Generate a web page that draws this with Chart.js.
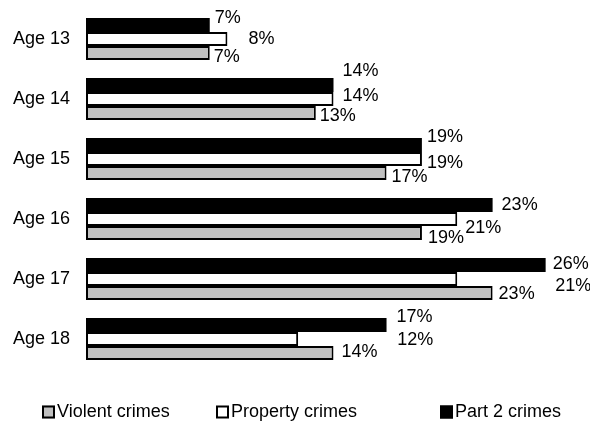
<!DOCTYPE html>
<html>
<head>
<meta charset="utf-8">
<script src="https://cdn.jsdelivr.net/npm/chart.js@4/dist/chart.umd.min.js"></script>
<style>
  html, body { margin: 0; padding: 0; background: #fff; }
  #wrap { width: 590px; height: 423px; }
</style>
</head>
<body>
<div id="wrap"><canvas id="chart" width="590" height="423"></canvas></div>
<script>
var ages = ['Age 13', 'Age 14', 'Age 15', 'Age 16', 'Age 17', 'Age 18'];

// percent of youth arrested, by offence group
var part2Crimes = [7, 14, 19, 23, 26, 17];
var propertyCrimes = [8, 14, 19, 21, 21, 12];
var violentCrimes = [7, 13, 17, 19, 23, 14];

var FONT = '"Liberation Sans", Arial, sans-serif';

// nudge each value label off its bar end so neighbours don't collide
// [dx, dy] per dataset (part 2, property, violent), per age
var labelShift = [
  [[5, -7], [9, -14], [5, -8], [9, 0], [7, -1], [10, -8]],
  [[21, 0], [9, -3], [5, 4], [8, 9], [98, 7], [99, 1]],
  [[4, 4], [4, 3], [5, 4], [6, 5], [6, 1], [8, -1]]
];

// legend columns, left edge of the swatch
var legendX = [42, 216, 440];
var legendY = 412;

var valueLabels = {
  id: 'valueLabels',
  afterDatasetsDraw: function (chart) {
    var ctx = chart.ctx;
    ctx.save();
    ctx.font = '18px ' + FONT;
    ctx.fillStyle = '#000';
    ctx.textAlign = 'left';
    ctx.textBaseline = 'middle';
    chart.data.datasets.forEach(function (ds, di) {
      var meta = chart.getDatasetMeta(di);
      meta.data.forEach(function (bar, i) {
        var s = labelShift[di][i];
        ctx.fillText(ds.data[i] + '%', bar.x + s[0], bar.y + s[1]);
      });
    });
    ctx.restore();
  }
};

var bottomLegend = {
  id: 'bottomLegend',
  afterDraw: function (chart) {
    var ctx = chart.ctx;
    // legend runs bottom bar first
    var items = chart.data.datasets.slice().reverse();
    ctx.save();
    ctx.font = '18px ' + FONT;
    ctx.textAlign = 'left';
    ctx.textBaseline = 'middle';
    items.forEach(function (ds, i) {
      var x = legendX[i];
      ctx.fillStyle = ds.backgroundColor;
      ctx.fillRect(x, legendY - 6.5, 13, 13);
      ctx.lineWidth = 2;
      ctx.strokeStyle = '#000';
      ctx.strokeRect(x + 1, legendY - 5.5, 11, 11);
      ctx.fillStyle = '#000';
      ctx.fillText(ds.label, x + 15, legendY);
    });
    ctx.restore();
  }
};

function barSet(label, data, fill, border) {
  return {
    label: label,
    data: data,
    backgroundColor: fill,
    borderColor: '#000',
    borderWidth: border,
    borderSkipped: false,
    inflateAmount: 0,
    categoryPercentage: 0.7,
    barPercentage: 1.0
  };
}

var chart = new Chart(document.getElementById('chart').getContext('2d'), {
  type: 'bar',
  data: {
    labels: ages,
    datasets: [
      // solid black bar needs no outline (avoids a seam at the end)
      barSet('Part 2 crimes', part2Crimes, '#000000', 0),
      barSet('Property crimes', propertyCrimes, '#ffffff', 2),
      barSet('Violent crimes', violentCrimes, '#c0c0c0', 2)
    ]
  },
  options: {
    indexAxis: 'y',
    responsive: false,
    animation: false,
    devicePixelRatio: 1,
    layout: {
      padding: { left: 0, right: 9, top: 9, bottom: 54 }
    },
    scales: {
      x: {
        display: false,
        min: 0,
        max: 28
      },
      y: {
        grid: { display: false, drawTicks: false },
        border: { display: false },
        ticks: {
          color: '#000',
          padding: 16,
          font: { family: FONT, size: 18 }
        },
        afterFit: function (scale) {
          scale.width = 86;
          scale.paddingTop = 0;
          scale.paddingBottom = 0;
        }
      }
    },
    plugins: {
      legend: { display: false },
      tooltip: { enabled: false }
    },
    events: []
  },
  plugins: [valueLabels, bottomLegend]
});
</script>
</body>
</html>
